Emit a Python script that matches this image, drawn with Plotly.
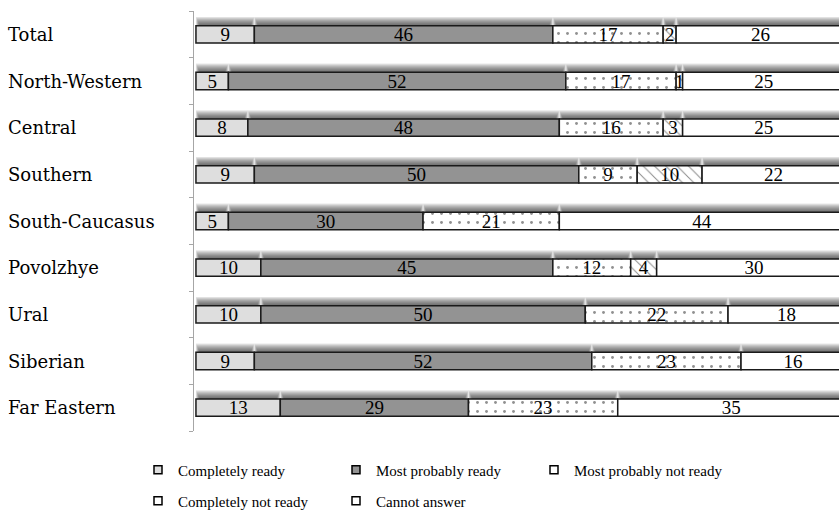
import plotly.graph_objects as go

# ---------------- data ----------------
categories = ["Total", "North-Western", "Central", "Southern", "South-Caucasus",
              "Povolzhye", "Ural", "Siberian", "Far Eastern"]
series_names = ["Completely ready", "Most probably ready", "Most probably not ready",
                "Completely not ready", "Cannot answer"]
completely_ready = [9, 5, 8, 9, 5, 10, 10, 9, 13]
most_probably_ready = [46, 52, 48, 50, 30, 45, 50, 52, 29]
most_probably_not_ready = [17, 17, 16, 9, 21, 12, 22, 23, 23]
completely_not_ready = [2, 1, 3, 10, 0, 4, 0, 0, 0]
cannot_answer = [26, 25, 25, 22, 44, 30, 18, 16, 35]

series_values = [completely_ready, most_probably_ready, most_probably_not_ready,
                 completely_not_ready, cannot_answer]

# ---------------- styles ----------------
fills = ["#dedede", "#939393", "white", "white", "white"]
patterns = [None, None,
            dict(shape=".", size=9, solidity=0.08, fgcolor="#222222", bgcolor="white", fillmode="overlay"),
            dict(shape="\\", size=8, solidity=0.12, fgcolor="#111111", bgcolor="white", fillmode="overlay"),
            None]
legend_fills = ["#dedede", "#939393", "white", "white", "white"]
legend_ids = ["legend", "legend", "legend", "legend2", "legend2"]

BAR_W = 0.37
SH_N = 9
SH_H = 0.021
SH_DX = 0.07

ypos = list(range(len(categories)))

# cumulative bases
bases = []
running = [0] * len(categories)
for vals in series_values:
    bases.append(list(running))
    running = [r + v for r, v in zip(running, vals)]

fig = go.Figure()

# soft shadow above each segment (layered translucent bars)
for k in range(1, SH_N + 1):
    inset = (SH_N - k) * SH_DX
    xs, bs, ys = [], [], []
    for vals, bse in zip(series_values, bases):
        for i, (v, b) in enumerate(zip(vals, bse)):
            if v and v - 2 * inset > 0:
                xs.append(v - 2 * inset)
                bs.append(b + inset)
                ys.append(i)
    fig.add_trace(go.Bar(
        orientation="h", x=xs, y=ys, base=bs,
        width=BAR_W / 2 + k * SH_H, offset=-BAR_W / 2 - k * SH_H,
        marker=dict(color="rgba(40,40,40,0.11)", line=dict(width=0)),
        showlegend=False, hoverinfo="skip",
    ))

# main stacked segments
for name, vals, bse, fill, pat in zip(series_names, series_values, bases, fills, patterns):
    marker = dict(color=fill, line=dict(color="#1a1a1a", width=1.5))
    if pat:
        marker["pattern"] = pat
    fig.add_trace(go.Bar(
        orientation="h",
        x=[v if v else None for v in vals], y=ypos, base=bse,
        width=BAR_W, offset=-BAR_W / 2,
        marker=marker,
        text=[str(v) if v else "" for v in vals],
        textposition="inside", insidetextanchor="middle", textangle=0,
        textfont=dict(family="Liberation Serif", size=19, color="black"),
        name=name, showlegend=False,
    ))

# legend entries
for name, lf, lid in zip(series_names, legend_fills, legend_ids):
    fig.add_trace(go.Scatter(
        x=[None], y=[None], mode="markers", name=name, legend=lid,
        marker=dict(symbol="square", size=8, color=lf, line=dict(color="black", width=1.5)),
    ))

# category labels
for i, c in enumerate(categories):
    fig.add_annotation(
        x=-0.2915, xref="paper", y=i, yref="y", text=c, showarrow=False,
        xanchor="left", yanchor="middle",
        font=dict(family="DejaVu Serif", size=18, color="black"),
    )

legend_font = dict(family="Liberation Serif", size=15, color="black")
fig.update_layout(
    width=839, height=510,
    margin=dict(l=194, r=0, t=11, b=79),
    paper_bgcolor="white", plot_bgcolor="white",
    barmode="overlay",
    uniformtext=dict(minsize=19, mode="show"),
    xaxis=dict(range=[-0.3, 99.1], visible=False),
    yaxis=dict(range=[8.5, -0.5], tickvals=[i - 0.5 for i in range(len(categories) + 1)],
               ticktext=[""] * (len(categories) + 1), ticks="outside", ticklen=4,
               tickcolor="#a6a6a6", showline=True, linecolor="#a6a6a6", linewidth=1,
               showgrid=False, zeroline=False),
    legend=dict(orientation="h", xref="container", yref="container",
                x=138 / 839, y=1 - 470 / 510, xanchor="left", yanchor="middle",
                entrywidth=153, entrywidthmode="pixels", font=legend_font,
                bgcolor="rgba(0,0,0,0)"),
    legend2=dict(orientation="h", xref="container", yref="container",
                 x=138 / 839, y=1 - 501 / 510, xanchor="left", yanchor="middle",
                 entrywidth=153, entrywidthmode="pixels", font=legend_font,
                 bgcolor="rgba(0,0,0,0)"),
    showlegend=True,
)

fig.write_html("out.html", config={"displayModeBar": False},
               post_script="document.body.style.margin='0';document.body.style.padding='0';")
